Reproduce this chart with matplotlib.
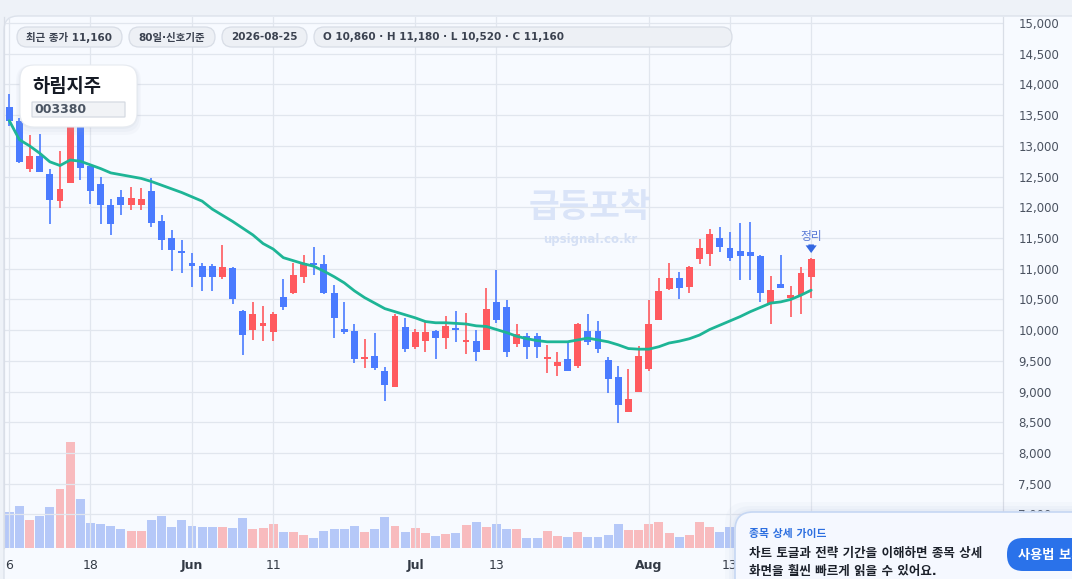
import matplotlib
matplotlib.use("Agg")
import matplotlib.pyplot as plt
from matplotlib.patches import FancyBboxPatch
from matplotlib.transforms import IdentityTransform
import numpy as np
import pandas as pd

plt.rcParams["font.family"] = ["DejaVu Sans", "Noto Sans CJK KR"]

# ---- data ----
dates = pd.bdate_range("2026-05-06", "2026-08-25")
opens = [13630, 13400, 12630, 12830, 12540, 12110, 12400, 13450, 12670, 12380,
         12040, 12170, 12040, 12030, 12270, 11770, 11500, 11290, 11090, 11040,
         11040, 10870, 11010, 10310, 10000, 10070, 9970, 10540, 10600, 10870,
         11090, 11080, 10600, 10020, 9990, 9530, 9580, 9330, 9080, 10050,
         9730, 9830, 9990, 9880, 10040, 9810, 9820, 9680, 10450, 10380,
         9780, 9900, 9910, 9530, 9420, 9530, 9420, 9990, 9990, 9510,
         9230, 8670, 9000, 9370, 10170, 10670, 10850, 10710, 11160, 11240,
         11500, 11340, 11290, 11280, 11210, 10440, 10750, 10520, 10570, 10860]
highs = [13840, 13450, 13180, 13190, 12620, 12920, 13700, 13600, 12680, 12490,
         12130, 12280, 12330, 12320, 12470, 11870, 11630, 11460, 11250, 11090,
         11080, 11390, 11030, 10320, 10450, 10390, 10300, 10830, 11100, 11220,
         11360, 11220, 10730, 10460, 10100, 9860, 9950, 9400, 10260, 10200,
         10020, 10140, 10000, 10230, 10310, 10280, 10000, 10690, 10980, 10490,
         10100, 9960, 9950, 9750, 9650, 9790, 10120, 10260, 10150, 9570,
         9420, 9370, 9740, 10490, 10850, 11090, 10950, 11040, 11480, 11650,
         11680, 11590, 11750, 11760, 11220, 10880, 11220, 10720, 11020, 11180]
lows = [13330, 12720, 12580, 12570, 11730, 11990, 12390, 12440, 12060, 11730,
        11550, 11870, 11960, 11960, 11680, 11310, 10970, 10930, 10700, 10630,
        10630, 10830, 10430, 9600, 9840, 9820, 9830, 10330, 10590, 10760,
        10900, 10590, 9880, 9930, 9470, 9390, 9350, 8850, 9070, 9650,
        9690, 9650, 9530, 9690, 9810, 9610, 9490, 9670, 10120, 9570,
        9730, 9530, 9540, 9300, 9260, 9330, 9390, 9760, 9620, 8980,
        8480, 8660, 8990, 9340, 10160, 10660, 10510, 10610, 11070, 11040,
        11280, 11130, 10820, 10810, 10460, 10100, 10680, 10220, 10260, 10520]
closes = [13410, 12740, 12830, 12580, 12120, 12300, 13500, 12640, 12260, 12040,
          11730, 12040, 12150, 12140, 11750, 11470, 11310, 11260, 11050, 10870,
          10870, 11030, 10510, 9920, 10260, 10120, 10260, 10380, 10900, 11090,
          11060, 10600, 10200, 9970, 9530, 9570, 9390, 9110, 10230, 9690,
          9970, 9970, 9880, 10070, 10010, 9830, 9650, 10340, 10170, 9650,
          9940, 9730, 9720, 9560, 9480, 9340, 10100, 9810, 9690, 9210,
          8780, 8880, 9580, 10100, 10640, 10850, 10690, 11020, 11330, 11570,
          11360, 11180, 11210, 11210, 10610, 10650, 10690, 10570, 10930, 11160]
ma20 = [13410, 13100, 13000, 12880, 12740, 12680, 12770, 12750, 12690, 12630,
        12560, 12530, 12500, 12470, 12420, 12360, 12300, 12240, 12170, 12100,
        11970, 11870, 11770, 11660, 11550, 11410, 11320, 11180, 11130, 11080,
        11040, 10960, 10870, 10770, 10640, 10530, 10440, 10350, 10300, 10250,
        10200, 10140, 10120, 10120, 10110, 10100, 10070, 10060, 10010, 9960,
        9900, 9860, 9830, 9810, 9810, 9810, 9840, 9870, 9840, 9810,
        9760, 9700, 9690, 9690, 9730, 9790, 9820, 9860, 9920, 10010,
        10080, 10150, 10220, 10300, 10370, 10440, 10460, 10500, 10570, 10650]
volumes = [107, 125, 83, 95, 122, 176, 317, 146, 74, 71,
           65, 56, 50, 50, 83, 95, 62, 83, 65, 62,
           62, 62, 59, 89, 56, 59, 71, 47, 47, 38,
           29, 50, 56, 56, 65, 47, 56, 92, 65, 47,
           59, 44, 35, 41, 44, 68, 77, 62, 71, 56,
           56, 29, 29, 50, 35, 32, 47, 32, 32, 38,
           71, 53, 53, 71, 77, 44, 32, 38, 77, 62,
           47, 62, 55, 50, 70, 60, 45, 40, 55, 65]  # thousand shares

# the last tick (Aug 25) sits under the guide card, so its label stays empty
tick_dates = ["2026-05-06", "2026-05-18", "2026-06-01", "2026-06-11", "2026-07-01",
              "2026-07-13", "2026-08-03", "2026-08-13", "2026-08-25"]
tick_labels = ["6", "18", "Jun", "11", "Jul", "13", "Aug", "13", ""]
price_ticks = list(range(7000, 15001, 500))

chips = ["최근 종가 11,160", "80일·신호기준", "2026-08-25",
         "O 10,860 · H 11,180 · L 10,520 · C 11,160"]

RED, BLUE = "#FF5A5F", "#4A7BFF"
RED_V, BLUE_V = "#F8BBBE", "#B5C8F8"
MA_COLOR = "#1EB596"

W, H = 1072, 579
PX = IdentityTransform()

fig = plt.figure(figsize=(W / 100, H / 100), dpi=100)
fig.patch.set_facecolor("#EEF2F8")


def rbox(x0, y0, x1, y1, r, fc, ec="none", lw=1.0, z=3, alpha=1.0):
    p = FancyBboxPatch((x0, H - y1), x1 - x0, y1 - y0,
                       boxstyle=f"round,pad=0,rounding_size={r}",
                       transform=PX, fc=fc, ec=ec, lw=lw, zorder=z, alpha=alpha)
    fig.add_artist(p)


def ptext(x, y, s, **kw):
    fig.text(x, H - y, s, transform=PX, **kw)


# card container behind the chart
rbox(4, 16, 1110, 640, 14, "#F7FAFF", ec="#DCE2EB", lw=1.0, z=-5)

ax = fig.add_axes([4 / W, 1 - 548 / H, (1003 - 4) / W, (548 - 17) / H])
ax.set_facecolor("none")

x = np.arange(len(dates))
o = np.array(opens)
c = np.array(closes)
up = c >= o
cols = np.where(up, RED, BLUE)

# volume on a twin axis (drawn behind price)
axv = ax.twinx()
axv.bar(x, volumes, width=0.88, color=np.where(up, RED_V, BLUE_V), zorder=1)
axv.set_ylim(0, 1592)
axv.axis("off")
axv.set_zorder(0)
ax.set_zorder(1)
ax.patch.set_visible(False)

ax.vlines(x, lows, highs, colors=cols, lw=1.2, zorder=3)
body_lo = np.minimum(o, c)
body_h = np.maximum(np.abs(c - o), 28)
ax.bar(x, body_h, bottom=body_lo, width=0.68, color=cols, zorder=4)
ax.plot(x, ma20, color=MA_COLOR, lw=2.0, zorder=5, solid_capstyle="round")

ax.set_xlim(-0.52, 97.9)
ax.set_ylim(6453, 15098)

tick_pos = [dates.get_loc(pd.Timestamp(d)) for d in tick_dates]
ax.set_xticks(tick_pos)
ax.set_xticklabels(tick_labels)
for lab in ax.get_xticklabels():
    if lab.get_text() in ("Jun", "Jul", "Aug"):
        lab.set_fontweight("bold")
ax.set_yticks(price_ticks)
ax.set_yticklabels([f"{v:,}" for v in price_ticks])
ax.yaxis.tick_right()
ax.tick_params(axis="y", length=0, pad=11, labelsize=8.5, labelcolor="#4A5260")
ax.tick_params(axis="x", length=0, pad=8, labelsize=9, labelcolor="#333A45")
ax.grid(True, color="#E1E6EE", lw=0.9, zorder=0)
ax.set_axisbelow(True)
for side in ("top", "bottom"):
    ax.spines[side].set_visible(False)
for side in ("left", "right"):
    ax.spines[side].set_color("#D9DEE7")
    ax.spines[side].set_linewidth(0.9)

# watermark
ax.text(590, H - 208, "급등포착", transform=PX, ha="center", va="center",
        fontsize=24, fontweight="bold", color="#DAE4F8", zorder=2)
ax.text(590, H - 240, "upsignal.co.kr", transform=PX, ha="center", va="center",
        fontsize=8.5, fontweight="bold", color="#D5E0F5", zorder=2)

# signal marker on last candle
last = len(x) - 1
ax.text(last, 11530, "정리", ha="center", va="center", fontsize=8.5,
        color="#5A7AD6", zorder=6)
ax.annotate("", xy=(last, 11210), xytext=(last, 11440),
            arrowprops=dict(arrowstyle="simple,head_width=0.8,head_length=0.55,tail_width=0.4",
                            color="#3467E2", lw=0), zorder=6)

# header chips
chip_boxes = [(17, 122), (129, 215), (222, 307), (314, 732)]
for (x0, x1), s in zip(chip_boxes, chips):
    rbox(x0, 27, x1, 47, 10, "#EDF0F5", ec="#D8DDE6", lw=0.9, z=6)
    if x1 - x0 > 200:
        ptext(x0 + 9, 37.5, s, ha="left", va="center", fontsize=7.5,
              fontweight="bold", color="#3B4250", zorder=7)
    else:
        ptext((x0 + x1) / 2, 37.5, s, ha="center", va="center", fontsize=7.5,
              fontweight="bold", color="#3B4250", zorder=7)

# title box
for k, a in ((8, 0.05), (5, 0.06), (2, 0.08)):
    rbox(20 - k / 2, 65, 137 + k / 2, 127 + k, 16, "#9AA6BC", z=5, alpha=a)
rbox(20, 65, 137, 127, 14, "white", ec="#E6EAF0", lw=0.8, z=6)
ptext(32, 87, "하림지주", ha="left", va="center", fontsize=13.5,
      fontweight="bold", color="#151A24", zorder=7)
rbox(32, 102, 125, 117, 0.5, "#F1F3F6", ec="#D5DAE2", lw=0.9, z=7)
ptext(34, 109.5, "003380", ha="left", va="center", fontsize=9,
      fontweight="bold", color="#4B5563", zorder=8)

# guide card, bottom right
for k, a in ((10, 0.04), (6, 0.05), (3, 0.06)):
    rbox(735 - k, 512 - k, 1110, 640, 22, "#8FA3C8", z=8, alpha=a)
rbox(735, 512, 1110, 640, 18, "#F5F8FF", ec="#C6D7F3", lw=1.2, z=9)
ptext(749, 534, "종목 상세 가이드", ha="left", va="center", fontsize=7.8,
      fontweight="bold", color="#2D6FE0", zorder=10)
ptext(749, 553, "차트 토글과 전략 기간을 이해하면 종목 상세", ha="left", va="center",
      fontsize=9, fontweight="bold", color="#1C212B", zorder=10)
ptext(749, 572, "화면을 훨씬 빠르게 읽을 수 있어요.", ha="left", va="center",
      fontsize=9, fontweight="bold", color="#1C212B", zorder=10)
rbox(1007, 538, 1110, 571, 16, "#2A72EA", z=10)
ptext(1018, 555, "사용법 보기", ha="left", va="center", fontsize=9.5,
      fontweight="bold", color="white", zorder=11)

fig.savefig("out.png", dpi=100, facecolor=fig.get_facecolor())
